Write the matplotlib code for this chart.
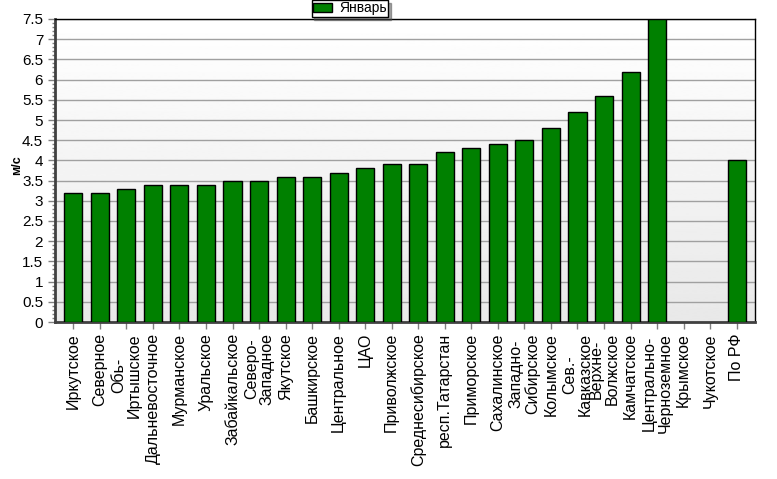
import numpy as np
import matplotlib.pyplot as plt
from matplotlib.patches import Patch
from matplotlib.ticker import MultipleLocator

# данные
regions = [
    "Иркутское", "Северное", "Обь-\nИртышское", "Дальневосточное", "Мурманское",
    "Уральское", "Забайкальское", "Северо-\nЗападное", "Якутское", "Башкирское",
    "Центральное", "ЦАО", "Приволжское", "Среднесибирское", "респ.Татарстан",
    "Приморское", "Сахалинское", "Западно-\nСибирское", "Колымское", "Сев.-\nКавказское",
    "Верхне-\nВолжское", "Камчатское", "Центрально-\nЧерноземное", "Крымское",
    "Чукотское", "По РФ",
]
january = [3.2, 3.2, 3.3, 3.4, 3.4, 3.4, 3.5, 3.5, 3.6, 3.6, 3.7, 3.8, 3.9, 3.9,
           4.2, 4.3, 4.4, 4.5, 4.8, 5.2, 5.6, 6.2, 7.5, np.nan, np.nan, 4.0]

plt.rcParams['font.family'] = ['Liberation Sans', 'DejaVu Sans']

fig = plt.figure(figsize=(7.77, 4.79), dpi=100)
ax = fig.add_axes([55 / 777, 1 - 322 / 479, 700 / 777, 303 / 479])

x = np.arange(len(regions))
xmin, xmax = -0.69, len(regions) - 0.31

# фон с градиентом
grad = np.linspace(0.91, 1.0, 256).reshape(-1, 1)
ax.imshow(grad, cmap='gray', vmin=0, vmax=1, aspect='auto',
          extent=[xmin, xmax, 7.5, 0], zorder=0)
ax.set_xlim(xmin, xmax)
ax.set_ylim(0, 7.5)

ax.yaxis.set_major_locator(MultipleLocator(0.5))
ax.yaxis.set_minor_locator(MultipleLocator(0.1))
ax.grid(axis='y', color='#a0a0a0', linewidth=1, zorder=1)

ax.bar(x, january, width=0.68, color='#008000', edgecolor='black',
       linewidth=1, zorder=3)

ax.set_xticks(x)
ax.set_xticklabels(regions, rotation=90, fontsize=11.5, ha='center', va='top',
                   multialignment='center', linespacing=1.05)
ax.set_yticks(np.arange(0, 7.51, 0.5))
ax.set_yticklabels([f"{v:g}" for v in np.arange(0, 7.51, 0.5)], fontsize=11)
ax.tick_params(axis='both', which='major', length=5, color='#808080', width=1)
ax.tick_params(axis='x', pad=3)
ax.tick_params(axis='y', which='minor', length=2, color='#808080', width=1)

for s in ['left', 'bottom']:
    ax.spines[s].set_color('#404040')
    ax.spines[s].set_linewidth(2)
for s in ['top', 'right']:
    ax.spines[s].set_color('black')
    ax.spines[s].set_linewidth(1)

fig.text(17 / 777, 1 - 165 / 479, "м/с", rotation=90, fontsize=9,
         fontweight='bold', ha='center', va='center')

handles = [Patch(facecolor='#008000', edgecolor='black', label='Январь')]
fig.legend(handles=handles, loc='upper center', bbox_to_anchor=(350 / 777, 1.0),
           fontsize=10, frameon=True, fancybox=False, shadow=True,
           edgecolor='black', borderpad=0.1, handlelength=1.4, handleheight=0.6,
           handletextpad=0.5, borderaxespad=0)

fig.savefig('out.png', dpi=100)
